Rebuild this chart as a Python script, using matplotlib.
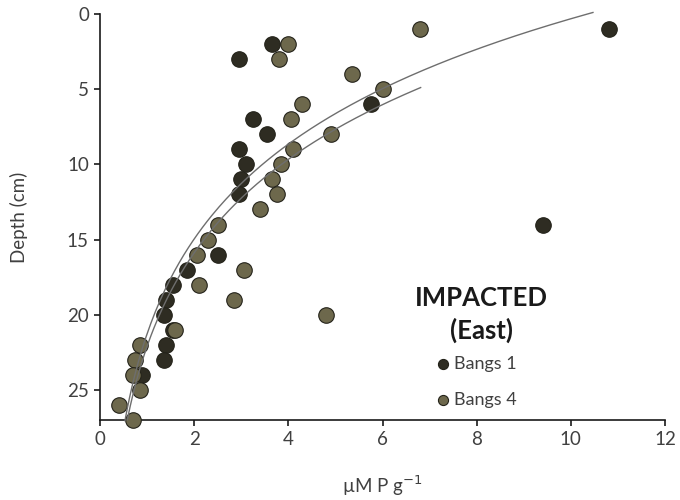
import numpy as np
import matplotlib.pyplot as plt

plt.rcParams['font.family'] = ['Lato', 'DejaVu Sans']

# Phosphorus profile, IMPACTED (East) cores
b1_p = [10.8, 3.65, 2.95, 5.75, 3.25, 3.55, 2.95, 3.1, 3.0, 2.95, 9.4,
        2.5, 1.85, 1.55, 1.4, 1.35, 1.55, 1.4, 1.35, 0.9]
b1_depth = [1, 2, 3, 6, 7, 8, 9, 10, 11, 12, 14,
            16, 17, 18, 19, 20, 21, 22, 23, 24]

b4_p = [6.8, 4.0, 3.8, 5.35, 6.0, 4.3, 4.05, 4.9, 4.1, 3.85, 3.65, 3.75, 3.4, 2.5,
        2.3, 2.05, 3.05, 2.1, 2.85, 4.8, 1.6, 0.85, 0.75, 0.7, 0.85, 0.4, 0.7]
b4_depth = [1, 2, 3, 4, 5, 6, 7, 8, 9, 10, 11, 12, 13, 14,
            15, 16, 17, 18, 19, 20, 21, 22, 23, 24, 25, 26, 27]

# log trendlines: depth = a - b * ln(P)
fit1_a, fit1_b, fit1_range = 21.27, 9.1, (0.53, 10.47)
fit4_a, fit4_b, fit4_range = 22.1, 8.97, (0.58, 6.81)

dark = '#2e2c22'
olive = '#6d684c'
edge = '#24231a'
txt = '#404040'

fig = plt.figure(figsize=(6.8, 5), dpi=100)
ax = fig.add_axes([100 / 680, 80 / 500, 565 / 680, 406 / 500])

ax.scatter(b1_p, b1_depth, s=125, c=dark, edgecolors=edge, linewidths=0.8,
           zorder=3, clip_on=False, label='Bangs 1')
ax.scatter(b4_p, b4_depth, s=125, c=olive, edgecolors=edge, linewidths=0.8,
           zorder=3, clip_on=False, label='Bangs 4')

for a, b, (lo, hi) in [(fit1_a, fit1_b, fit1_range), (fit4_a, fit4_b, fit4_range)]:
    xs = np.linspace(lo, hi, 200)
    ax.plot(xs, a - b * np.log(xs), color='#6e6e6e', lw=1.0, zorder=4, clip_on=False)

ax.set_xlim(0, 12)
ax.set_ylim(27, 0)
ax.set_xticks(range(0, 13, 2))
ax.set_yticks(range(0, 26, 5))
for s in ['top', 'right']:
    ax.spines[s].set_visible(False)
for s in ['left', 'bottom']:
    ax.spines[s].set_linewidth(1.2)
    ax.spines[s].set_color('#1a1a1a')
ax.tick_params(direction='out', length=4, width=1.2, color='#1a1a1a',
               labelsize=13.5, labelcolor=txt, pad=4)

ax.set_ylabel('Depth (cm)', fontsize=13.5, color=txt, labelpad=28)
ax.set_xlabel(r'µM P g$^{-1}$', fontsize=13.5, color=txt, labelpad=18)

ax.text(8.1, 20.0, 'IMPACTED\n(East)', ha='center', va='center', fontsize=18.5,
        fontweight='bold', color='#1a1a1a', linespacing=1.35)
ax.legend(loc='upper left', bbox_to_anchor=(436 / 680, 1 - 356 / 500),
          bbox_transform=fig.transFigure, frameon=False, fontsize=13,
          labelcolor=txt, markerscale=0.65, handlelength=0.8, handletextpad=0.2,
          labelspacing=1.1, borderpad=0, borderaxespad=0)

fig.savefig('out.png', dpi=100)
